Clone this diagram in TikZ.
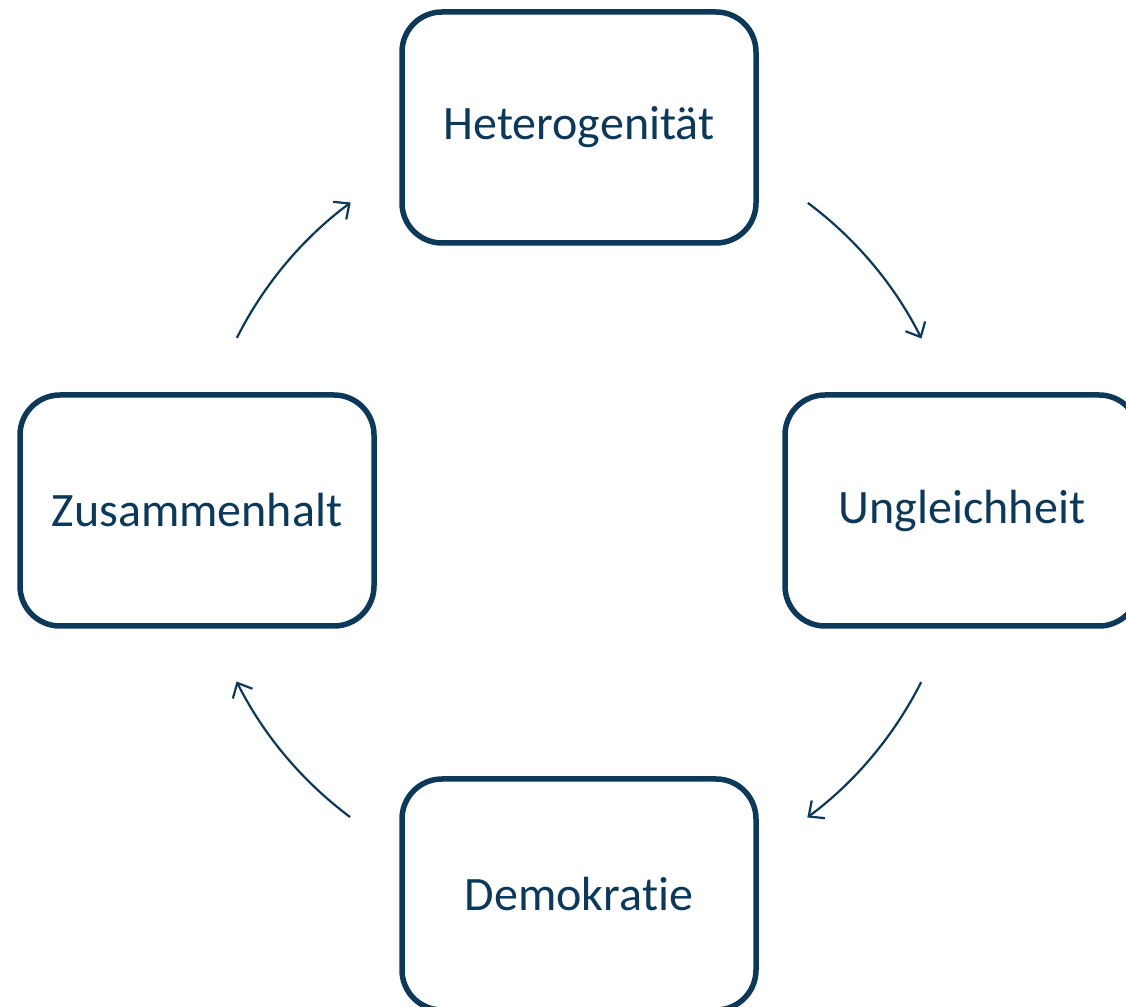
\documentclass[tikz,border=0pt]{standalone}
\usepackage{fontspec}
\setmainfont{Carlito}[Ligatures=NoCommon]
\usetikzlibrary{arrows.meta,calc}
\definecolor{navy}{RGB}{12,57,89}
\begin{document}
\begin{tikzpicture}[x=1pt,y=1pt,
  box/.style={draw=navy,line width=5.5pt,rounded corners=40pt,minimum width=354pt,minimum height=231pt,text=navy,font=\fontsize{48}{56}\selectfont,inner sep=0pt},
  cyc/.style={draw=navy,line width=2.2pt,-{Straight Barb[length=12pt,width=22pt,line width=2.2pt]}}]
\useasboundingbox (0,0) rectangle (1126,1006);
\node[box] (het) at (579,878.5) {Heterogenität};
\node[box] (ung) at (962,495.5) {Ungleichheit};
\node[box] (zus) at (197,495.5) {Zusammenhalt};
\node[box] (dem) at (579,111.5) {Demokratie};
\coordinate (c) at (579,496);
\coordinate (s1) at ($(c)+(53.3:383)$);
\coordinate (s2) at ($(c)+(-26.7:383)$);
\coordinate (s3) at ($(c)+(233.3:383)$);
\coordinate (s4) at ($(c)+(153.3:383)$);
\draw[cyc] (s1) arc[start angle=53.3,end angle=26.6,radius=383pt];
\draw[cyc] (s2) arc[start angle=-26.7,end angle=-53.4,radius=383pt];
\draw[cyc] (s3) arc[start angle=233.3,end angle=206.6,radius=383pt];
\draw[cyc] (s4) arc[start angle=153.3,end angle=126.6,radius=383pt];
\end{tikzpicture}
\end{document}
